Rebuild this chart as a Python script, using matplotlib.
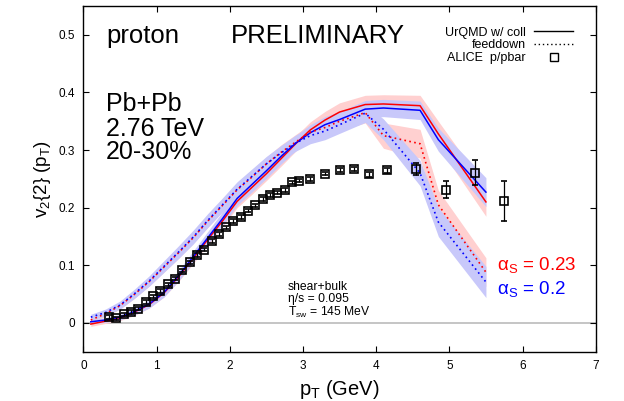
import numpy as np
import matplotlib
matplotlib.use('Agg')
import matplotlib.pyplot as plt
from matplotlib.lines import Line2D

plt.rcParams['font.family'] = ['Liberation Sans', 'DejaVu Sans']
plt.rcParams['mathtext.fontset'] = 'custom'
plt.rcParams['mathtext.rm'] = 'Liberation Sans'
plt.rcParams['mathtext.it'] = 'Liberation Sans:italic'
plt.rcParams['mathtext.sf'] = 'Liberation Sans'

# ALICE p/pbar data
pt_data = [0.35, 0.45, 0.55, 0.65, 0.75, 0.85, 0.95, 1.05, 1.15, 1.25, 1.35, 1.45, 1.55,
           1.65, 1.75, 1.85, 1.95, 2.05, 2.15, 2.25, 2.35, 2.45, 2.55, 2.65, 2.75, 2.85,
           2.95, 3.1, 3.3, 3.5, 3.7, 3.9, 4.15, 4.55, 4.95, 5.35, 5.75]
v2_data = [0.010, 0.008, 0.015, 0.019, 0.025, 0.036, 0.046, 0.055, 0.067, 0.077, 0.091,
           0.105, 0.118, 0.127, 0.142, 0.154, 0.166, 0.177, 0.184, 0.195, 0.204, 0.215,
           0.222, 0.226, 0.231, 0.244, 0.247, 0.250, 0.259, 0.265, 0.267, 0.258, 0.265,
           0.267, 0.231, 0.261, 0.212]
err_data = [0.003] * 31 + [0.004, 0.004, 0.011, 0.015, 0.021, 0.035]

# model curves (UrQMD w/ coll = solid, feeddown = dotted)
pt_mod = [0.1, 0.3, 0.5, 0.7, 0.9, 1.1, 1.3, 1.5, 1.7, 1.9, 2.1, 2.3, 2.5, 2.7, 2.9,
          3.1, 3.3, 3.5, 3.85, 4.1, 4.6, 4.85, 5.5]
blue_solid = [0.002, 0.005, 0.010, 0.020, 0.033, 0.053, 0.082, 0.115, 0.148, 0.181, 0.216,
              0.240, 0.264, 0.289, 0.312, 0.330, 0.344, 0.353, 0.371, 0.373, 0.369, 0.318, 0.227]
red_solid = [-0.002, 0.003, 0.009, 0.019, 0.032, 0.052, 0.080, 0.112, 0.145, 0.177, 0.211,
             0.235, 0.259, 0.285, 0.311, 0.335, 0.352, 0.366, 0.379, 0.380, 0.377, 0.328, 0.210]
blue_dot = [0.010, 0.018, 0.031, 0.051, 0.073, 0.098, 0.123, 0.149, 0.178, 0.205, 0.232,
            0.254, 0.276, 0.295, 0.312, 0.325, 0.333, 0.344, 0.364, 0.336, 0.260, 0.175, 0.071]
red_dot = [0.005, 0.016, 0.030, 0.050, 0.072, 0.097, 0.122, 0.148, 0.177, 0.204, 0.231,
           0.253, 0.276, 0.296, 0.314, 0.331, 0.339, 0.350, 0.365, 0.325, 0.311, 0.205, 0.088]
blue_solid_err = [0.004, 0.004, 0.005, 0.006, 0.007, 0.008, 0.009, 0.010, 0.011, 0.012, 0.012,
                  0.013, 0.013, 0.013, 0.013, 0.014, 0.014, 0.014, 0.015, 0.015, 0.016, 0.020, 0.025]
red_solid_err = [0.004, 0.004, 0.005, 0.006, 0.006, 0.007, 0.008, 0.009, 0.010, 0.010, 0.011,
                 0.012, 0.012, 0.013, 0.013, 0.014, 0.015, 0.016, 0.016, 0.016, 0.018, 0.022, 0.025]
blue_dot_err = [0.005, 0.006, 0.007, 0.008, 0.009, 0.010, 0.011, 0.012, 0.012, 0.012, 0.013,
                0.013, 0.013, 0.013, 0.014, 0.014, 0.015, 0.015, 0.016, 0.018, 0.022, 0.025, 0.027]
red_dot_err = [0.004, 0.005, 0.006, 0.007, 0.008, 0.009, 0.010, 0.010, 0.011, 0.011, 0.012,
               0.012, 0.012, 0.013, 0.013, 0.014, 0.015, 0.016, 0.018, 0.022, 0.025, 0.025, 0.025]

RED = '#ff0000'
BLUE = '#0000ff'
PINK = '#ffd0d0'
LAV = '#c8c8fa'

fig = plt.figure(figsize=(6.24, 4.01), dpi=100)
ax = fig.add_axes([0.1338, 0.1229, 0.8208, 0.8621])

x = np.array(pt_mod)
for y, e, c in [(red_solid, red_solid_err, PINK), (red_dot, red_dot_err, PINK),
                (blue_solid, blue_solid_err, LAV), (blue_dot, blue_dot_err, LAV)]:
    y = np.array(y); e = np.array(e)
    ax.fill_between(x, y - e, y + e, color=c, lw=0, zorder=1)

ax.axhline(0, color='#c0c0c0', lw=1.3, zorder=0.5)

ax.plot(x, red_solid, color=RED, lw=1.1, zorder=3)
ax.plot(x, blue_solid, color=BLUE, lw=1.1, zorder=3)
ax.plot(x, red_dot, color=RED, lw=1.2, ls=(0, (1, 2)), zorder=3)
ax.plot(x, blue_dot, color=BLUE, lw=1.2, ls=(0, (1, 2)), zorder=3)

ax.errorbar(pt_data, v2_data, yerr=err_data, fmt='s', mfc='none', mec='black', mew=1.2,
            ms=5.8, ecolor='black', elinewidth=0.9, capsize=2.5, capthick=0.9, zorder=4)

ax.set_xlim(0, 7)
ax.set_ylim(-0.05, 0.55)
ax.set_xticks(range(0, 8))
ax.set_yticks([0, 0.1, 0.2, 0.3, 0.4, 0.5])
ax.set_yticklabels(['0', '0.1', '0.2', '0.3', '0.4', '0.5'])
ax.tick_params(direction='in', length=4.5, width=0.8, top=True, right=True,
               labelsize=8.5, pad=6)
for s in ax.spines.values():
    s.set_linewidth(1.0)

ax.set_xlabel(r'p$_{\rm T}$ (GeV)', fontsize=14.5, labelpad=4)
ax.set_ylabel(r'v$_2${2} (p$_{\rm T}$)', fontsize=13.5, labelpad=4)

ax.text(0.31, 0.485, 'proton', fontsize=18.5, va='baseline')
ax.text(2.01, 0.485, 'PRELIMINARY', fontsize=18.5, va='baseline')
ax.text(0.31, 0.367, 'Pb+Pb', fontsize=18, va='baseline')
ax.text(0.31, 0.325, '2.76 TeV', fontsize=18, va='baseline')
ax.text(0.31, 0.284, '20-30%', fontsize=18, va='baseline')

ax.text(2.79, 0.057, 'shear+bulk', fontsize=8.7, va='baseline')
ax.text(2.79, 0.036, 'η/s = 0.095', fontsize=8.7, va='baseline')
ax.text(2.79, 0.013, r'T$_{\rm sw}$ = 145 MeV', fontsize=8.7, va='baseline')

ax.text(5.65, 0.091, r'α$_{\rm S}$ = 0.23', fontsize=13.5, color=RED, va='baseline')
ax.text(5.65, 0.051, r'α$_{\rm S}$ = 0.2', fontsize=13.5, color=BLUE, va='baseline')

handles = [Line2D([], [], color='black', lw=1.0),
           Line2D([], [], color='black', lw=1.0, ls=(0, (1, 2))),
           Line2D([], [], color='black', ls='none', marker='s', mfc='none', mew=1.0, ms=6)]
ax.legend(handles, ['UrQMD w/ coll', 'feeddown', 'ALICE  p/pbar'], loc='upper right',
          bbox_to_anchor=(0.956, 0.94), frameon=False, markerfirst=False, fontsize=9,
          handlelength=3.1, handletextpad=0.7, labelspacing=0.05, borderpad=0,
          borderaxespad=0)

fig.savefig('out.png', dpi=100)
